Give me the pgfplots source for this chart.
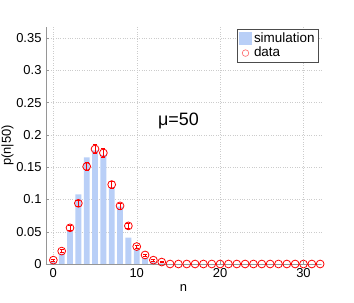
\documentclass[border=0pt]{standalone}
\usepackage{fontspec}
\setmainfont{Liberation Sans}
\usepackage{pgfplots}
\pgfplotsset{compat=1.18}
\definecolor{barblue}{RGB}{185,207,247}
\definecolor{axgray}{RGB}{150,150,150}
\begin{document}
\fontsize{13}{15}\selectfont
\begin{tikzpicture}
\path[use as bounding box] (-46bp,-39bp) rectangle (308bp,264bp);
\begin{axis}[
  scale only axis, width=275bp, height=237bp,
  xmin=-0.88, xmax=32.1, ymin=0, ymax=0.367,
  axis x line*=bottom, axis y line*=left,
  xtick={0,10,20,30},
  ytick={0,0.05,0.1,0.15,0.2,0.25,0.3,0.35},
  yticklabels={0,0.05,0.1,0.15,0.2,0.25,0.3,0.35},
  grid=major, grid style={dotted, gray!40},
  axis line style={axgray}, tick style={axgray}, major tick length=3bp,
  tick align=inside,
  xlabel={n}, ylabel={p(n|50)},
  xlabel style={yshift=2bp},
  ylabel style={at={(axis description cs:-0.14,0.5)}, anchor=center},
  /pgf/number format/assume math mode=true,
  ticklabel style={font=\fontsize{13}{15}\selectfont},
  label style={font=\fontsize{13}{15}\selectfont},
  legend style={at={(rel axis cs:0.99,0.992)}, anchor=north east, draw=black!70,
    font=\fontsize{13.5}{15}\selectfont, inner sep=1.5pt, row sep=-1pt,
    legend cell align=left},
]
\addplot[ybar, bar width=0.7, bar shift=0pt, fill=barblue, draw=none,
  legend image code/.code={\fill[barblue] (0bp,-6.5bp) rectangle (13bp,6.5bp);}] table {
n p
0 0.003
1 0.016
2 0.052
3 0.108
4 0.165
5 0.176
6 0.169
7 0.119
8 0.089
9 0.041
10 0.022
11 0.009
12 0.003
13 0.001
};
\addlegendentry{simulation}
\addplot[only marks, mark=o, red, mark size=3.9bp, line width=0.8pt,
  legend image code/.code={\draw[red!60, line width=0.6pt] (6.5bp,0bp) circle (3.3bp);},
  error bars/.cd, y dir=both, y explicit,
  error bar style={red, line width=0.8pt}, error mark options={red, mark size=2bp, rotate=90}]
  table[x=n, y=p, y error=e] {
n p e
0 0.006 0.0012
1 0.020 0.0023
2 0.056 0.0038
3 0.094 0.0049
4 0.151 0.0062
5 0.178 0.0068
6 0.172 0.0066
7 0.123 0.0056
8 0.090 0.0048
9 0.059 0.0039
10 0.027 0.0026
11 0.014 0.0019
12 0.006 0.0012
13 0.003 0.0009
14 0 0
15 0 0
16 0 0
17 0 0
18 0 0
19 0 0
20 0 0
21 0 0
22 0 0
23 0 0
24 0 0
25 0 0
26 0 0
27 0 0
28 0 0
29 0 0
30 0 0
31 0 0
32 0 0
};
\addlegendentry{data}
\node[font=\fontsize{18}{20}\selectfont] at (axis cs:15,0.221) {μ=50};
\end{axis}
\end{tikzpicture}
\end{document}
